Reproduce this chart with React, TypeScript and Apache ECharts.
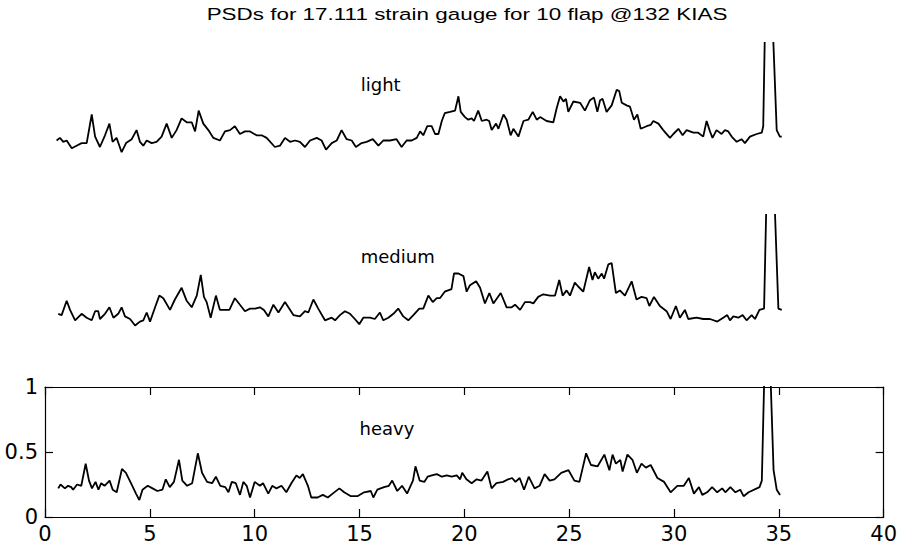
import React, { useEffect, useRef } from "react";
import * as echarts from "echarts";

const titleText = "PSDs for 17.111 strain gauge for 10 flap @132 KIAS";
const panelNames = ["light", "medium", "heavy"];
const xTicks = [0, 40, 5];
const yTicks = [0, 1, 0.5];

const lightFreq = [0.55,0.71,0.87,1.03,1.27,1.5,1.74,1.98,2.22,2.38,2.61,2.85,3.06,3.21,3.4,3.64,3.85,4.12,4.35,4.51,4.67,4.83,5.07,5.3,5.54,5.78,6.02,6.25,6.49,6.73,6.97,7.13,7.3,7.52,7.76,8.0,8.31,8.55,8.79,9.02,9.26,9.5,9.74,10.05,10.29,10.53,10.92,11.16,11.4,11.64,11.88,12.11,12.35,12.59,12.91,13.14,13.35,13.62,13.86,14.09,14.33,14.57,14.77,15.04,15.28,15.57,15.84,16.07,16.39,16.7,16.94,17.18,17.42,17.66,17.82,17.97,18.16,18.37,18.53,18.69,18.85,18.99,19.24,19.48,19.64,19.75,19.95,20.11,20.27,20.38,20.58,20.75,20.98,21.1,21.22,21.43,21.54,21.78,21.93,22.12,22.25,22.49,22.73,22.96,23.17,23.36,23.52,23.83,24.15,24.31,24.47,24.63,24.75,24.86,25.1,25.42,25.65,25.89,26.08,26.24,26.37,26.49,26.68,26.92,27.16,27.28,27.4,27.63,27.79,27.98,28.14,28.3,28.58,28.77,28.9,29.14,29.37,29.69,29.85,30.09,30.29,30.48,30.8,31.03,31.27,31.43,31.59,31.71,31.9,32.14,32.3,32.46,32.62,32.86,33.09,33.25,33.49,33.81,34.05,34.12,34.2,34.4,34.58,34.76,34.91,35.0];
const lightPsd = [0.25,0.27,0.24,0.25,0.19,0.21,0.23,0.23,0.45,0.28,0.20,0.29,0.38,0.24,0.27,0.16,0.23,0.26,0.33,0.24,0.21,0.25,0.23,0.24,0.28,0.38,0.27,0.33,0.42,0.39,0.39,0.32,0.48,0.38,0.33,0.27,0.25,0.32,0.33,0.36,0.30,0.32,0.32,0.29,0.29,0.27,0.20,0.21,0.27,0.24,0.25,0.24,0.20,0.25,0.27,0.25,0.18,0.23,0.25,0.33,0.26,0.25,0.20,0.23,0.24,0.26,0.21,0.25,0.25,0.26,0.20,0.25,0.25,0.27,0.32,0.29,0.36,0.36,0.30,0.30,0.40,0.46,0.47,0.48,0.59,0.47,0.43,0.41,0.42,0.40,0.48,0.40,0.41,0.40,0.33,0.38,0.34,0.45,0.41,0.29,0.34,0.28,0.40,0.41,0.47,0.41,0.43,0.40,0.39,0.50,0.59,0.55,0.57,0.47,0.55,0.54,0.48,0.56,0.58,0.47,0.56,0.57,0.47,0.52,0.64,0.63,0.54,0.52,0.51,0.41,0.45,0.34,0.36,0.37,0.40,0.38,0.33,0.27,0.30,0.34,0.29,0.33,0.31,0.31,0.28,0.40,0.32,0.27,0.33,0.30,0.33,0.32,0.28,0.24,0.26,0.23,0.28,0.30,0.31,0.36,1.1,12,1.1,0.33,0.28,0.28];

const mediumFreq = [0.63,0.79,1.03,1.19,1.43,1.74,1.98,2.22,2.38,2.53,2.61,2.85,3.06,3.25,3.48,3.64,3.8,4.04,4.28,4.51,4.67,4.83,4.99,5.23,5.43,5.62,5.94,6.17,6.49,6.73,6.97,7.21,7.4,7.55,7.68,7.87,8.12,8.31,8.55,8.76,9.02,9.26,9.5,9.74,9.98,10.21,10.4,10.61,10.85,11.09,11.4,11.8,12.11,12.35,12.51,12.75,12.98,13.3,13.62,13.78,14.01,14.25,14.49,14.72,14.93,15.12,15.44,15.67,15.91,16.07,16.31,16.55,16.78,17.02,17.26,17.5,17.78,17.97,18.21,18.42,18.61,18.76,18.99,19.31,19.43,19.64,19.88,20.03,20.19,20.48,20.67,20.9,21.11,21.3,21.65,21.93,22.17,22.33,22.57,22.8,23.04,23.2,23.43,23.67,23.99,24.23,24.43,24.59,24.78,24.94,25.17,25.33,25.57,25.85,26.01,26.12,26.28,26.45,26.56,26.76,26.92,27.12,27.31,27.55,27.87,28.1,28.34,28.58,28.71,28.93,29.21,29.53,29.72,29.97,30.16,30.4,30.56,30.95,31.27,31.59,31.94,32.22,32.41,32.54,32.7,32.94,33.14,33.33,33.57,33.73,33.94,34.16,34.27,34.47,34.66,34.84,35.0];
const mediumPsd = [0.24,0.23,0.34,0.27,0.19,0.24,0.21,0.19,0.26,0.26,0.20,0.24,0.29,0.21,0.24,0.29,0.22,0.20,0.15,0.18,0.19,0.25,0.18,0.29,0.38,0.36,0.27,0.35,0.44,0.34,0.29,0.38,0.54,0.37,0.33,0.21,0.38,0.27,0.27,0.27,0.36,0.31,0.26,0.28,0.28,0.29,0.27,0.22,0.31,0.25,0.33,0.23,0.22,0.26,0.25,0.35,0.28,0.19,0.21,0.19,0.23,0.26,0.24,0.20,0.16,0.21,0.21,0.20,0.25,0.19,0.21,0.24,0.28,0.22,0.19,0.23,0.28,0.28,0.38,0.33,0.36,0.36,0.41,0.43,0.55,0.55,0.53,0.41,0.46,0.49,0.44,0.32,0.40,0.32,0.40,0.29,0.29,0.31,0.27,0.33,0.33,0.32,0.37,0.39,0.38,0.38,0.50,0.38,0.42,0.38,0.48,0.45,0.41,0.60,0.50,0.56,0.51,0.55,0.51,0.62,0.63,0.40,0.42,0.38,0.49,0.35,0.37,0.36,0.30,0.37,0.30,0.26,0.20,0.30,0.21,0.27,0.20,0.21,0.20,0.20,0.18,0.21,0.23,0.19,0.22,0.21,0.23,0.19,0.23,0.20,0.27,0.28,1.1,12,1.1,0.28,0.27];

const heavyFreq = [0.63,0.74,0.95,1.1,1.25,1.34,1.53,1.73,1.94,2.1,2.24,2.41,2.55,2.68,2.84,3.08,3.23,3.42,3.67,3.86,4.1,4.34,4.5,4.65,4.9,5.13,5.36,5.6,5.76,5.95,6.15,6.39,6.55,6.78,7.02,7.29,7.49,7.73,7.97,8.15,8.36,8.6,8.75,8.91,9.1,9.3,9.46,9.62,9.78,10.0,10.25,10.4,10.65,10.84,11.04,11.28,11.51,11.75,11.99,12.15,12.3,12.54,12.7,13.0,13.25,13.49,13.72,14.04,14.27,14.59,14.9,15.22,15.54,15.66,15.85,16.17,16.4,16.56,16.8,17.03,17.27,17.55,17.67,17.87,18.09,18.25,18.45,18.69,18.93,19.16,19.4,19.64,19.8,19.9,20.1,20.35,20.59,20.82,21.1,21.3,21.53,21.85,22.09,22.28,22.44,22.64,22.85,23.07,23.35,23.59,23.83,24.07,24.3,24.62,24.97,25.25,25.49,25.81,26.04,26.36,26.68,26.92,27.07,27.23,27.44,27.55,27.78,28.02,28.23,28.45,28.66,28.89,29.21,29.53,29.84,30.16,30.47,30.71,30.95,31.19,31.35,31.58,31.82,32.06,32.3,32.45,32.69,32.93,33.16,33.32,33.56,34.08,34.19,34.31,34.45,34.6,34.75,34.9,35.06];
const heavyPsd = [0.22,0.25,0.22,0.24,0.23,0.21,0.25,0.24,0.41,0.28,0.22,0.27,0.21,0.26,0.24,0.28,0.21,0.19,0.37,0.34,0.26,0.18,0.13,0.21,0.24,0.22,0.20,0.21,0.29,0.23,0.27,0.44,0.28,0.24,0.26,0.49,0.34,0.27,0.26,0.31,0.24,0.23,0.19,0.27,0.26,0.17,0.27,0.24,0.15,0.27,0.24,0.26,0.18,0.24,0.22,0.24,0.19,0.26,0.32,0.30,0.33,0.24,0.15,0.15,0.17,0.15,0.18,0.22,0.19,0.16,0.16,0.19,0.20,0.15,0.21,0.23,0.24,0.28,0.20,0.24,0.18,0.28,0.39,0.28,0.27,0.31,0.32,0.33,0.31,0.32,0.31,0.32,0.29,0.34,0.29,0.26,0.29,0.28,0.35,0.22,0.26,0.27,0.29,0.30,0.27,0.30,0.21,0.31,0.22,0.24,0.33,0.28,0.29,0.34,0.36,0.28,0.27,0.49,0.40,0.39,0.48,0.36,0.48,0.41,0.44,0.35,0.48,0.44,0.34,0.41,0.38,0.40,0.30,0.27,0.19,0.24,0.24,0.30,0.18,0.23,0.17,0.19,0.23,0.19,0.22,0.19,0.23,0.19,0.21,0.16,0.19,0.23,0.28,1.1,12,1.1,0.36,0.21,0.17];

const labelPos = [15, 0.68];

const FONT = "'DejaVu Sans', 'Liberation Sans', Arial, sans-serif";
const TITLE_FONT = "'Liberation Sans', Arial, Helvetica, sans-serif";

export default function App() {
  const ref = useRef<HTMLDivElement>(null);
  useEffect(() => {
    if (!ref.current) return;
    const chart = echarts.init(ref.current, null, { renderer: "svg" });
    const freqs = [lightFreq, mediumFreq, heavyFreq];
    const psds = [lightPsd, mediumPsd, heavyPsd];
    const tops = [43, 215, 387];
    const grids = tops.map((t) => ({ left: 45, right: 13, top: t, height: 130, containLabel: false }));
    const hidden = { show: false };
    const xAxes: any[] = [0, 1].map((i) => ({
      type: "value", gridIndex: i, min: xTicks[0], max: xTicks[1], ...hidden,
    }));
    const yAxes: any[] = [0, 1].map((i) => ({
      type: "value", gridIndex: i, min: yTicks[0], max: yTicks[1], ...hidden,
    }));
    const axisCommon = {
      type: "value",
      gridIndex: 2,
      axisLine: { show: true, onZero: false, lineStyle: { color: "#000", width: 1.2 } },
      axisTick: { show: true, inside: true, length: 8, lineStyle: { color: "#000", width: 1.2 } },
      splitLine: { show: false },
    };
    const labelStyle = { show: true, color: "#000", fontSize: 21, fontFamily: FONT };
    xAxes.push({
      ...axisCommon, position: "bottom", min: xTicks[0], max: xTicks[1], interval: xTicks[2],
      axisLabel: { ...labelStyle, margin: 6 },
    });
    xAxes.push({
      ...axisCommon, position: "top", min: xTicks[0], max: xTicks[1], interval: xTicks[2],
      axisLabel: { show: false },
    });
    yAxes.push({
      ...axisCommon, position: "left", min: yTicks[0], max: yTicks[1], interval: yTicks[2],
      axisLabel: { ...labelStyle, margin: 7 },
    });
    yAxes.push({
      ...axisCommon, position: "right", min: yTicks[0], max: yTicks[1], interval: yTicks[2],
      axisLabel: { show: false },
    });
    const series = psds.map((p, i) => ({
      type: "line",
      name: panelNames[i],
      xAxisIndex: i < 2 ? i : 2,
      yAxisIndex: i < 2 ? i : 2,
      data: p.map((v, k) => [freqs[i][k], v]),
      showSymbol: false,
      symbol: "none",
      clip: true,
      lineStyle: { color: "#000", width: 1.8 },
      markPoint: {
        symbol: "circle",
        symbolSize: 0,
        silent: true,
        label: {
          show: true, position: "right", distance: 0, formatter: panelNames[i],
          color: "#000", fontSize: 18, fontFamily: FONT,
        },
        data: [{ coord: labelPos }],
      },
    }));
    chart.setOption({
      animation: false,
      backgroundColor: "#fff",
      grid: grids,
      xAxis: xAxes,
      yAxis: yAxes,
      series,
      graphic: [
        {
          type: "text", x: 467, y: 14, scaleX: 1.36, scaleY: 1,
          style: { text: titleText, fill: "#000", font: `16.5px ${TITLE_FONT}`, textAlign: "center", textVerticalAlign: "middle" },
        },
      ],
    });
    return () => chart.dispose();
  }, []);
  return <div ref={ref} style={{ width: 900, height: 550, position: "absolute", left: 0, top: 0 }} />;
}
